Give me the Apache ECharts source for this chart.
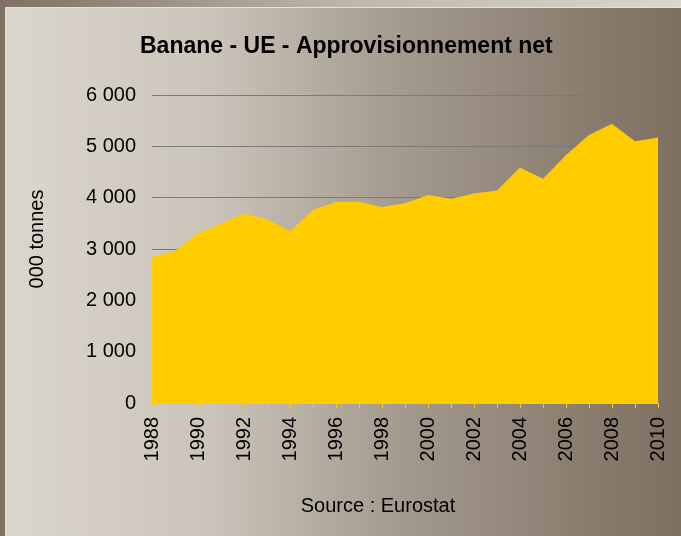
<!DOCTYPE html>
<html>
<head>
<meta charset="utf-8">
<script src="https://cdn.jsdelivr.net/npm/echarts@6/dist/echarts.min.js"></script>
<style>
  html, body { margin: 0; padding: 0; }
  #chart { width: 681px; height: 536px; }
</style>
</head>
<body>
<div id="chart"></div>
<script>
// Banane - UE - approvisionnement net (000 tonnes)
var years = ['1988', '1989', '1990', '1991', '1992', '1993', '1994', '1995', '1996', '1997', '1998', '1999',
    '2000', '2001', '2002', '2003', '2004', '2005', '2006', '2007', '2008', '2009', '2010'];
var supply = [2840, 2960, 3310, 3490, 3690, 3580, 3350, 3760, 3920, 3920, 3820, 3890,
    4050, 3980, 4080, 4140, 4590, 4370, 4830, 5220, 5440, 5100, 5170];

function fmtSpace(v) {
    return String(v).replace(/\B(?=(\d{3})+(?!\d))/g, ' ');
}

var myChart = echarts.init(document.getElementById('chart'));
myChart.setOption({
    animation: false,
    backgroundColor: '#7f7163',
    title: {
        text: 'Banane - UE - Approvisionnement net',
        left: 135,
        top: 30,
        textStyle: {
            fontFamily: 'Liberation Sans',
            fontSize: 23,
            fontWeight: 'bold',
            color: '#000'
        }
    },
    graphic: [
        {
            type: 'rect',
            z: -10,
            silent: true,
            shape: { x: 0, y: 0, width: 681, height: 536 },
            style: {
                fill: new echarts.graphic.LinearGradient(0, 0, 1, 0, [
                    { offset: 0, color: '#7f7163' },
                    { offset: 0.5, color: '#bdb5aa' },
                    { offset: 1, color: '#dbd6cd' }
                ])
            }
        },
        {
            type: 'rect',
            z: -9,
            silent: true,
            shape: { x: 5.5, y: 7.5, width: 680, height: 534 },
            style: {
                fill: new echarts.graphic.LinearGradient(0, 0, 1, 0, [
                    { offset: 0, color: '#dbd6cd' },
                    { offset: 0.3, color: '#cbc4ba' },
                    { offset: 0.6, color: '#a1978b' },
                    { offset: 1, color: '#7c6e60' }
                ]),
                stroke: '#e6e2da',
                lineWidth: 1
            }
        },
        {
            type: 'text',
            x: 378,
            y: 506,
            style: {
                text: 'Source : Eurostat',
                align: 'center',
                verticalAlign: 'middle',
                fontFamily: 'Liberation Sans',
                fontSize: 20,
                fill: '#000'
            }
        }
    ],
    grid: { left: 152, right: 23, top: 95, bottom: 133 },
    xAxis: {
        type: 'category',
        data: years,
        boundaryGap: false,
        axisLine: { lineStyle: { color: '#ffcc00', width: 1 } },
        axisTick: { show: true, interval: 0, length: 5, lineStyle: { color: '#ffcc00' } },
        axisLabel: {
            interval: 1,
            rotate: 90,
            margin: 14,
            fontFamily: 'Liberation Sans',
            fontSize: 20,
            color: '#000'
        }
    },
    yAxis: {
        type: 'value',
        min: 0,
        max: 6000,
        interval: 1000,
        name: '000 tonnes',
        nameLocation: 'middle',
        nameGap: 105,
        nameTextStyle: {
            fontFamily: 'Liberation Sans',
            fontSize: 20,
            color: '#000',
            padding: [0, 0, 0, 20]
        },
        axisLine: { show: false },
        axisTick: { show: false },
        axisLabel: {
            margin: 16,
            fontFamily: 'Liberation Sans',
            fontSize: 20,
            color: '#000',
            formatter: fmtSpace
        },
        splitLine: { lineStyle: { color: '#7a7a7a', width: 1 } }
    },
    series: [
        {
            name: 'Approvisionnement net',
            type: 'line',
            data: supply,
            symbol: 'none',
            lineStyle: { width: 0, color: '#ffcc00' },
            itemStyle: { color: '#ffcc00' },
            areaStyle: { color: '#ffcc00', opacity: 1 }
        }
    ]
});
</script>
</body>
</html>
